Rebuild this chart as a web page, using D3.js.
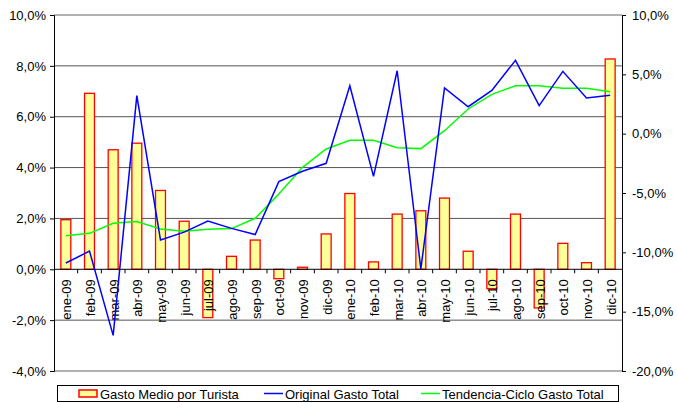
<!DOCTYPE html>
<html>
<head>
<meta charset="utf-8">
<script src="https://cdn.jsdelivr.net/npm/d3@7"></script>
<style>
  body { margin: 0; background: #fff; }
  svg { font-family: "Liberation Sans", Arial, sans-serif; font-size: 13px; }
</style>
</head>
<body>
<div id="chart"></div>
<script>
// categories (months)
var months = ['ene-09','feb-09','mar-09','abr-09','may-09','jun-09','jul-09','ago-09','sep-09','oct-09','nov-09','dic-09',
              'ene-10','feb-10','mar-10','abr-10','may-10','jun-10','jul-10','ago-10','sep-10','oct-10','nov-10','dic-10'];

// Gasto Medio por Turista (left axis, %)
var gastoMedio = [1.95, 6.92, 4.70, 4.96, 3.10, 1.89, -1.90, 0.51, 1.15, -0.37, 0.08, 1.39,
                  2.98, 0.29, 2.17, 2.30, 2.80, 0.71, -0.76, 2.17, -1.52, 1.02, 0.26, 8.27];

// Original Gasto Total (right axis, %)
var originalTotal = [-10.9, -9.9, -17.0, 3.2, -8.96, -8.3, -7.36, -7.98, -8.5, -4.04, -3.17, -2.5,
                     4.04, -3.6, 5.3, -11.4, 3.85, 2.27, 3.65, 6.18, 2.36, 5.25, 3.0, 3.23];

// Tendencia-Ciclo Gasto Total (right axis, %)
var tendencia = [-8.6, -8.4, -7.55, -7.41, -8.03, -8.23, -8.06, -8.0, -7.13, -5.08, -2.84, -1.29,
                 -0.56, -0.56, -1.18, -1.26, 0.25, 2.08, 3.31, 4.04, 4.04, 3.82, 3.82, 3.54];

var leftTicks = [-4, -2, 0, 2, 4, 6, 8, 10];
var rightTicks = [-20, -15, -10, -5, 0, 5, 10];
var legendLabels = ['Gasto Medio por Turista', 'Original Gasto Total', 'Tendencia-Ciclo Gasto Total'];

var width = 677, height = 403;
var plot = { left: 54, right: 622, top: 15, bottom: 371 };
var fontSize = 13;

var es = d3.formatLocale({ decimal: ',', thousands: '.', grouping: [3], currency: ['', '€'], minus: '-' });
var pct = function (d) { return es.format('.1f')(d) + '%'; };

var svg = d3.select('#chart').append('svg')
  .attr('width', width)
  .attr('height', height);

var x = d3.scaleBand().domain(months).range([plot.left, plot.right]).padding(0);
var yL = d3.scaleLinear().domain([-4, 10]).range([plot.bottom, plot.top]);
var yR = d3.scaleLinear().domain([-20, 10]).range([plot.bottom, plot.top]);
var barW = x.bandwidth() * 0.42;

// gridlines
svg.append('g').selectAll('line')
  .data(leftTicks.filter(function (d) { return d !== 0; }))
  .enter().append('line')
  .attr('x1', plot.left).attr('x2', plot.right)
  .attr('y1', function (d) { return yL(d); })
  .attr('y2', function (d) { return yL(d); })
  .attr('stroke', function (d) { return (d === 10 || d === -4) ? '#999' : '#555'; })
  .attr('stroke-width', function (d) { return (d === 10 || d === -4) ? 1.5 : 1; });

// bars
svg.append('g').selectAll('rect')
  .data(gastoMedio)
  .enter().append('rect')
  .attr('x', function (d, i) { return x(months[i]) + x.bandwidth() / 2 - barW / 2; })
  .attr('y', function (d) { return yL(Math.max(0, d)); })
  .attr('width', barW)
  .attr('height', function (d) { return Math.abs(yL(d) - yL(0)); })
  .attr('fill', '#FFFF99')
  .attr('stroke', '#FF0000')
  .attr('stroke-width', 1.3);

// left axis
var gL = svg.append('g')
  .attr('transform', 'translate(' + plot.left + ',0)')
  .call(d3.axisLeft(yL).tickValues(leftTicks).tickFormat(pct).tickSize(4).tickPadding(4));
gL.select('.domain').attr('stroke', '#000');
gL.selectAll('text').attr('font-size', fontSize).attr('fill', '#000').attr('font-family', '"Liberation Sans", Arial, sans-serif');

// right axis
var gR = svg.append('g')
  .attr('transform', 'translate(' + plot.right + ',0)')
  .call(d3.axisRight(yR).tickValues(rightTicks).tickFormat(pct).tickSize(4).tickPadding(6));
gR.select('.domain').attr('stroke', '#000');
gR.selectAll('text').attr('font-size', fontSize).attr('fill', '#000').attr('font-family', '"Liberation Sans", Arial, sans-serif');

// category axis at 0
var gX = svg.append('g').attr('transform', 'translate(0,' + yL(0) + ')');
gX.append('line')
  .attr('x1', plot.left).attr('x2', plot.right)
  .attr('stroke', '#000');
gX.selectAll('line.tick')
  .data(months.slice(1))
  .enter().append('line')
  .attr('class', 'tick')
  .attr('x1', function (d) { return x(d); })
  .attr('x2', function (d) { return x(d); })
  .attr('y1', 0).attr('y2', 4)
  .attr('stroke', '#000');
gX.selectAll('text')
  .data(months)
  .enter().append('text')
  .attr('transform', function (d) {
    return 'translate(' + (x(d) + x.bandwidth() / 2 + 1) + ',10) rotate(-90)';
  })
  .attr('text-anchor', 'end')
  .attr('dy', '0.35em')
  .attr('font-size', fontSize)
  .text(function (d) { return d; });

// lines on right axis
var lineR = d3.line()
  .x(function (d, i) { return x(months[i]) + x.bandwidth() / 2; })
  .y(function (d) { return yR(d); });

svg.append('path')
  .datum(tendencia)
  .attr('d', lineR)
  .attr('fill', 'none')
  .attr('stroke', '#00FF00')
  .attr('stroke-width', 1.5);

svg.append('path')
  .datum(originalTotal)
  .attr('d', lineR)
  .attr('fill', 'none')
  .attr('stroke', '#0000FF')
  .attr('stroke-width', 1.5);

// legend
var lg = svg.append('g');
lg.append('rect')
  .attr('x', 57.5).attr('y', 385.5)
  .attr('width', 561).attr('height', 16)
  .attr('fill', '#fff').attr('stroke', '#000').attr('stroke-width', 1);

var legendX = [79, 264, 421];
lg.append('rect')
  .attr('x', legendX[0]).attr('y', 390)
  .attr('width', 18).attr('height', 7)
  .attr('fill', '#FFFF99').attr('stroke', '#FF0000').attr('stroke-width', 1.5);
lg.append('line')
  .attr('x1', legendX[1]).attr('x2', legendX[1] + 19)
  .attr('y1', 393.5).attr('y2', 393.5)
  .attr('stroke', '#0000FF').attr('stroke-width', 1.5);
lg.append('line')
  .attr('x1', legendX[2]).attr('x2', legendX[2] + 19)
  .attr('y1', 393.5).attr('y2', 393.5)
  .attr('stroke', '#00FF00').attr('stroke-width', 1.5);

lg.selectAll('text')
  .data(legendLabels)
  .enter().append('text')
  .attr('x', function (d, i) { return legendX[i] + 21; })
  .attr('y', 398.5)
  .attr('font-size', fontSize)
  .text(function (d) { return d; });
</script>
</body>
</html>
